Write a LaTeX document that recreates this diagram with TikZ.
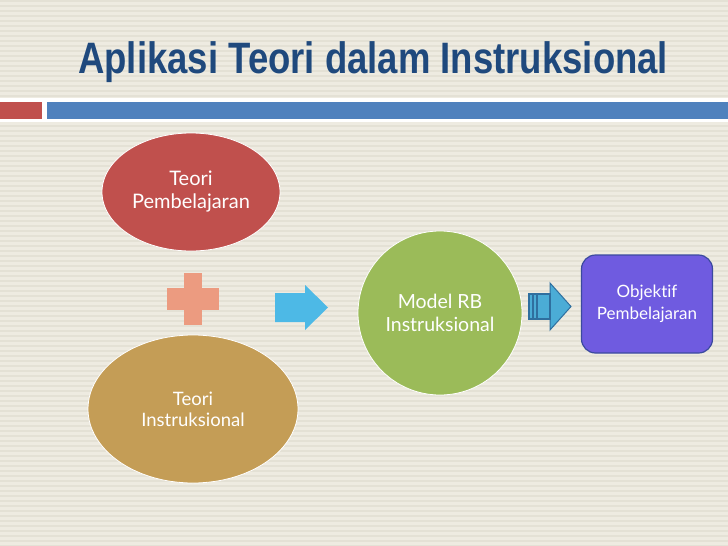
\documentclass[tikz,border=0pt]{standalone}
\usepackage{fontspec}
\setmainfont{Lato}[Ligatures={NoCommon}]
\newfontfamily\titlefont[FakeStretch=0.83]{Liberation Sans}
\usetikzlibrary{shapes.geometric,positioning,calc}

\definecolor{slidebg}{HTML}{EEEBE1}
\definecolor{stripe}{HTML}{E4E1D5}
\definecolor{titleblue}{HTML}{1F497D}
\definecolor{barred}{HTML}{C0504D}
\definecolor{barblue}{HTML}{4F81BD}
\definecolor{teoritan}{HTML}{C49D56}
\definecolor{modelgreen}{HTML}{9BBB59}
\definecolor{plussalmon}{HTML}{EC9B80}
\definecolor{arrowsky}{HTML}{4DB9E6}
\definecolor{arrowteal}{HTML}{4BACD6}
\definecolor{arrowdark}{HTML}{2F6F9F}
\definecolor{objpurple}{HTML}{6F5BE0}
\definecolor{objedge}{HTML}{3B4A9E}

\tikzstyle{bubble}=[
	 ellipse, draw=white, line width=0.8pt,
	 text=white, align=center, inner sep=0pt
    ]
\tikzstyle{goal}=[
	 rectangle, rounded corners=14pt, draw=objedge, line width=1.2pt,
	 fill=objpurple, text=white, align=center,
	 minimum width=131pt, minimum height=98pt
    ]
% block arrow: colour, tail x, mid y, length, body half height, head half height, head length
\newcommand{\blockarrow}[7]{\fill[#1] (#2,#3-#5) -- ++(#4-#7,0) -- ++(0,#5-#6) -- (#2+#4,#3) -- (#2+#4-#7,#3+#6) -- ++(0,#5-#6) -- (#2,#3+#5) -- cycle}

\begin{document}
\begin{tikzpicture}[x=1pt,y=-1pt]
\useasboundingbox (0,0) rectangle (728,546);

% background
\fill[slidebg] (0,0) rectangle (728,546);
\foreach \y in {0,5,...,545}
  \fill[stripe] (0,\y) rectangle (728,\y+2);

% title and bars
\node[anchor=base west,inner sep=0pt,text=titleblue,font=\titlefont\bfseries\fontsize{44}{46}\selectfont] (title) at (78,73) {Aplikasi Teori dalam Instruksional};
\fill[white] (0,98) rectangle (728,122);
\fill[barred] (0,102) rectangle (42,119);
\fill[barblue] (47,102) rectangle (728,119);

% theories
\node[bubble,fill=barred,minimum width=178pt,minimum height=118pt,font=\fontsize{20}{23}\selectfont] (TP) at (191,192) {Teori\\Pembelajaran};
\node[bubble,fill=teoritan,minimum width=210pt,minimum height=148pt,font=\fontsize{18.5}{21}\selectfont] (TI) at (193,409) {Teori\\Instruksional};

% plus
\coordinate (plus) at (193,299);
\fill[plussalmon] ($(plus)+(-26,-11)$) rectangle ($(plus)+(26,11)$);
\fill[plussalmon] ($(plus)+(-9,-26)$) rectangle ($(plus)+(9,26)$);

% model
\node[bubble,circle,fill=modelgreen,minimum size=164pt,font=\fontsize{19.5}{23}\selectfont] (MRB) at (440,313) {Model RB\\Instruksional};

% goal
\node[goal,font=\fontsize{17}{22}\selectfont] (OP) at (647,304) {Objektif\\Pembelajaran};

% arrows
\blockarrow{arrowsky}{275}{307.5}{53}{14.5}{22.5}{23};
\blockarrow{arrowteal}{529}{306.5}{42}{12.5}{23.5}{21};
\draw[arrowdark,line width=1.2pt] (529,294) rectangle (550,319) (533,294) -- (533,319) (537,294) -- (537,319);
\draw[arrowdark,line width=1pt] (550,294) -- (550,283) -- (571,306.5) -- (550,330) -- (550,319);

\end{tikzpicture}
\end{document}
